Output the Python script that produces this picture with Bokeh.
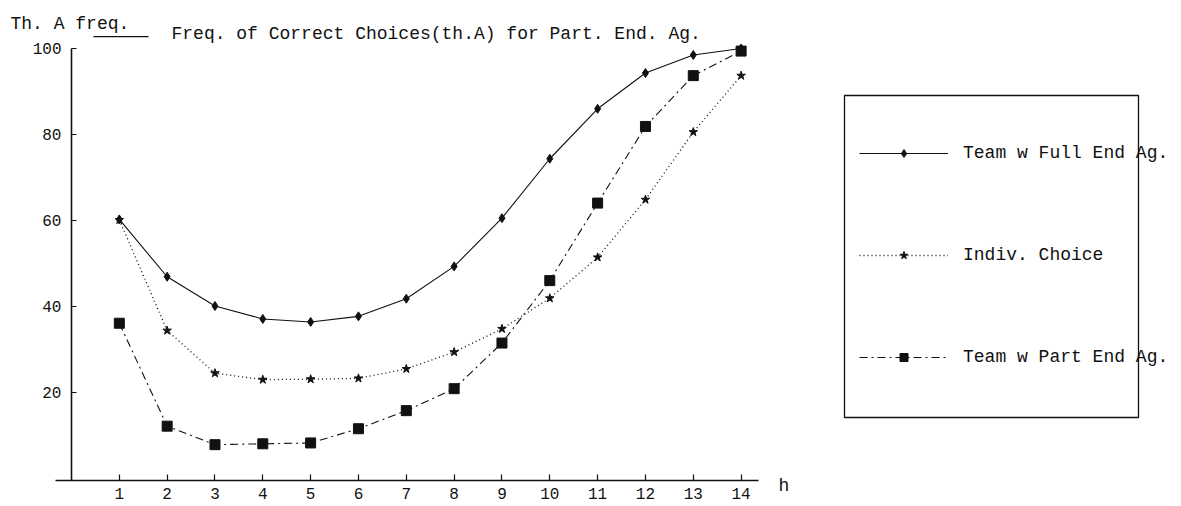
from bokeh.plotting import figure
from bokeh.models import (Range1d, FixedTicker, Legend, LegendItem, Label, BoxAnnotation, LinearAxis)
from bokeh.embed import file_html
from bokeh.resources import INLINE

# ---- data ----
h = [1, 2, 3, 4, 5, 6, 7, 8, 9, 10, 11, 12, 13, 14]
team_full = [60.3, 47.0, 40.2, 37.2, 36.5, 37.8, 41.9, 49.4, 60.6, 74.4, 86.0, 94.3, 98.5, 100.0]
indiv = [60.2, 34.5, 24.6, 23.1, 23.2, 23.4, 25.6, 29.5, 34.9, 42.0, 51.5, 64.9, 80.6, 93.7]
team_part = [36.2, 12.3, 8.0, 8.2, 8.4, 11.7, 15.9, 21.0, 31.6, 46.1, 64.1, 81.9, 93.7, 99.4]
x_ticks = list(range(1, 15))
y_ticks = [20, 40, 60, 80, 100]
labels = ["Team w Full End Ag.", "Indiv. Choice", "Team w Part End Ag."]
title_text = "Freq. of Correct Choices(th.A) for Part. End. Ag."
y_label = "Th. A freq."
x_label = "h"

MONO = "Liberation Mono"
INK = "#111111"
W, H = 1181, 506

# frame covers the whole canvas; axes are pinned in data space
p = figure(width=W, height=H, output_backend="svg", toolbar_location=None,
           x_range=Range1d(-1.484, 23.207), y_range=Range1d(-6.36, 111.15),
           min_border_left=0, min_border_right=0, min_border_top=0, min_border_bottom=0,
           x_axis_location=None, y_axis_location=None)
p.outline_line_color = None
p.background_fill_color = "white"
p.border_fill_color = "white"
p.xgrid.visible = False
p.ygrid.visible = False

xa = LinearAxis(ticker=FixedTicker(ticks=x_ticks), major_tick_in=6, major_tick_out=0,
                minor_tick_line_color=None, axis_line_width=1.6, axis_line_color=INK,
                major_tick_line_color=INK, major_tick_line_width=1.2,
                major_label_text_font=MONO, major_label_text_font_size="16px",
                major_label_text_color=INK, major_label_standoff=8,
                fixed_location=-0.3, bounds=(-0.33, 14.37))
ya = LinearAxis(ticker=FixedTicker(ticks=y_ticks), major_tick_in=5, major_tick_out=0,
                minor_tick_line_color=None, axis_line_width=1.6, axis_line_color=INK,
                major_tick_line_color=INK, major_tick_line_width=1.2,
                major_label_text_font=MONO, major_label_text_font_size="16px",
                major_label_text_color=INK, major_label_standoff=10,
                fixed_location=0, bounds=(-0.3, 100))
p.add_layout(xa, "below")
p.add_layout(ya, "left")

l1 = p.line(h, team_full, line_color=INK, line_width=1.1)
s1 = p.scatter(h, team_full, marker="diamond", size=9, color=INK)
l2 = p.line(h, indiv, line_color=INK, line_width=1.3, line_dash="1 3")
s2 = p.scatter(h, indiv, marker="star", size=9, color=INK)
l3 = p.line(h, team_part, line_color=INK, line_width=1.1, line_dash="8 4 2 4")
s3 = p.scatter(h, team_part, marker="square", size=10, color=INK)

legend = Legend(items=[LegendItem(label=labels[0], renderers=[l1, s1]),
                       LegendItem(label=labels[1], renderers=[l2, s2]),
                       LegendItem(label=labels[2], renderers=[l3, s3])],
                location=(859, H - 367), orientation="vertical",
                glyph_width=89, glyph_height=20, label_height=20, label_standoff=15,
                spacing=82, padding=0, margin=0,
                label_text_font=MONO, label_text_font_size="18px", label_text_color=INK,
                border_line_color=None, background_fill_alpha=0)
p.add_layout(legend, "center")

# legend frame (text runs over its right edge, as in the original)
p.add_layout(BoxAnnotation(left=844, right=1138, top=H - 95, bottom=H - 417,
                           left_units="screen", right_units="screen",
                           top_units="screen", bottom_units="screen",
                           fill_alpha=0, line_color=INK, line_alpha=1, line_width=1.3))

p.add_layout(Label(x=10, y=H - 23, x_units="screen", y_units="screen", text=y_label,
                   text_font=MONO, text_font_size="18px", text_color=INK,
                   text_baseline="alphabetic"))
p.add_layout(Label(x=171, y=H - 33, x_units="screen", y_units="screen", text=title_text,
                   text_font=MONO, text_font_size="18px", text_color=INK,
                   text_baseline="alphabetic"))
p.add_layout(Label(x=778, y=H - 485, x_units="screen", y_units="screen", text=x_label,
                   text_font=MONO, text_font_size="18px", text_color=INK,
                   text_baseline="alphabetic"))
p.add_layout(BoxAnnotation(left=93, right=148, top=H - 35.5, bottom=H - 36.7,
                           left_units="screen", right_units="screen",
                           top_units="screen", bottom_units="screen",
                           fill_color=INK, fill_alpha=1, line_color=None))

open("out.html", "w").write(file_html(p, INLINE))
